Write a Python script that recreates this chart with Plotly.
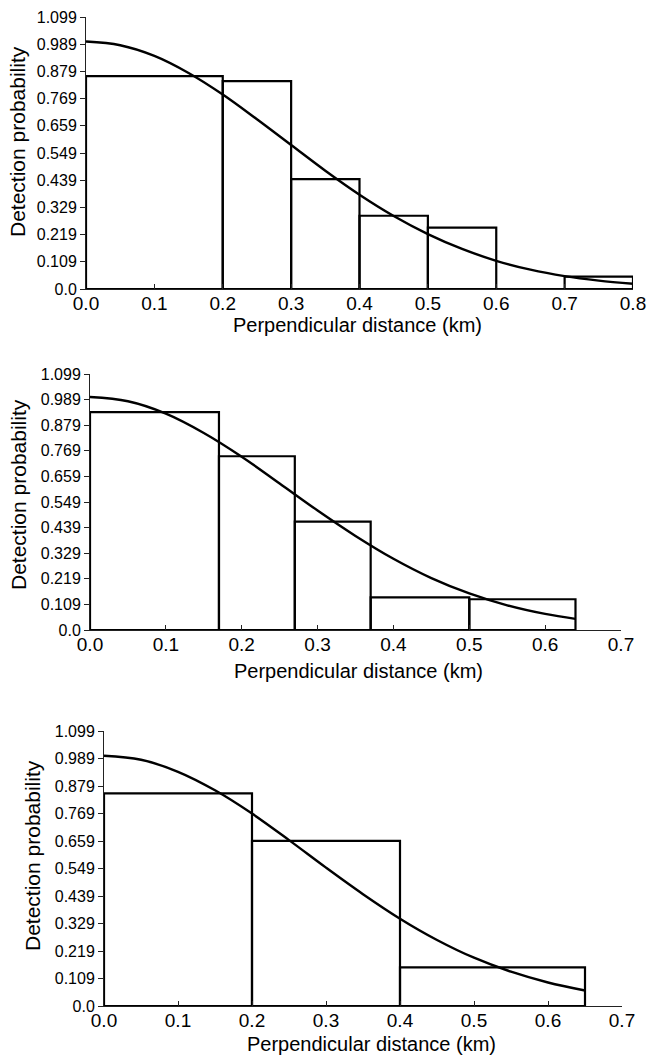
import plotly.graph_objects as go

# ---------------- data ----------------
p1_edges = [0.0, 0.2, 0.3, 0.4, 0.5, 0.6, 0.7, 0.8]
p1_heights = [0.86, 0.84, 0.444, 0.296, 0.248, 0.0, 0.05]
p1_curve_x = [0.0, 0.05, 0.1, 0.15, 0.2, 0.25, 0.3, 0.35, 0.4, 0.45, 0.5, 0.55, 0.6, 0.65, 0.7, 0.75, 0.8]
p1_curve_y = [1.0, 0.985, 0.942, 0.873, 0.786, 0.686, 0.582, 0.478, 0.381, 0.295, 0.222, 0.162, 0.114, 0.078, 0.052, 0.034, 0.021]

p2_edges = [0.0, 0.17, 0.27, 0.37, 0.5, 0.64]
p2_heights = [0.935, 0.746, 0.465, 0.140, 0.132]
p2_curve_x = [0.0, 0.05, 0.1, 0.15, 0.2, 0.25, 0.3, 0.35, 0.4, 0.45, 0.5, 0.55, 0.6, 0.64]
p2_curve_y = [1.0, 0.982, 0.929, 0.846, 0.744, 0.629, 0.513, 0.404, 0.306, 0.223, 0.157, 0.106, 0.069, 0.048]

p3_edges = [0.0, 0.2, 0.4, 0.65]
p3_heights = [0.85, 0.66, 0.154]
p3_curve_x = [0.0, 0.05, 0.1, 0.15, 0.2, 0.25, 0.3, 0.35, 0.4, 0.45, 0.5, 0.55, 0.6, 0.65]
p3_curve_y = [1.0, 0.984, 0.936, 0.862, 0.769, 0.663, 0.553, 0.447, 0.349, 0.264, 0.193, 0.137, 0.094, 0.062]

y_tick_vals = [0.0, 0.1099, 0.2198, 0.3297, 0.4396, 0.5495, 0.6594, 0.7693, 0.8792, 0.9891, 1.099]
y_tick_text = ["0.0", "0.109", "0.219", "0.329", "0.439", "0.549", "0.659", "0.769", "0.879", "0.989", "1.099"]
x_max = [0.8, 0.7, 0.7]

x_title = "Perpendicular distance (km)"
y_title = "Detection probability"

# ---------------- figure ----------------
W, H = 647, 1060
FONT = "Arial, 'Liberation Sans', sans-serif"

panels = [
    (p1_edges, p1_heights, p1_curve_x, p1_curve_y),
    (p2_edges, p2_heights, p2_curve_x, p2_curve_y),
    (p3_edges, p3_heights, p3_curve_x, p3_curve_y),
]
# plot areas in pixels: (left, right, top, bottom)
boxes = [(86, 633, 17, 289), (90, 621, 374, 630), (104, 622, 731, 1006)]
ytitle_pos = [(18, 142), (18, 495), (32, 856)]
xtitle_pos = [(357, 325), (358, 671), (371, 1044)]

fig = go.Figure()
layout = dict(
    template="none",
    width=W, height=H,
    margin=dict(l=0, r=0, t=0, b=0, autoexpand=False),
    paper_bgcolor="white", plot_bgcolor="white",
    showlegend=False,
    font=dict(family=FONT, color="black"),
    bargap=0,
    annotations=[],
)

for i, (edges, heights, cx, cy) in enumerate(panels):
    n = "" if i == 0 else str(i + 1)
    mids = [(edges[k] + edges[k + 1]) / 2 for k in range(len(heights))]
    widths = [edges[k + 1] - edges[k] for k in range(len(heights))]
    fig.add_trace(go.Bar(
        x=mids, y=heights, width=widths,
        marker=dict(color="rgba(0,0,0,0)", line=dict(color="black", width=2.2)),
        xaxis="x" + n, yaxis="y" + n, hoverinfo="skip",
    ))
    fig.add_trace(go.Scatter(
        x=cx, y=cy, mode="lines", line=dict(color="black", width=2.4, shape="spline"),
        xaxis="x" + n, yaxis="y" + n, hoverinfo="skip",
    ))
    l, r, t, b = boxes[i]
    layout["xaxis" + n] = dict(
        domain=[l / W, r / W], anchor="y" + n, automargin=False,
        range=[0, x_max[i]], dtick=0.1, tick0=0, tickformat=".1f",
        showgrid=False, zeroline=False, showline=True, linecolor="#222", linewidth=1,
        ticks="inside", ticklen=5, tickcolor="#222", ticklabelstandoff=-3,
        tickfont=dict(size=19, family=FONT, color="black"),
    )
    layout["yaxis" + n] = dict(
        domain=[1 - b / H, 1 - t / H], anchor="x" + n, automargin=False,
        range=[0, 1.099], tickvals=y_tick_vals, ticktext=y_tick_text,
        showgrid=False, zeroline=False, showline=True, linecolor="#222", linewidth=1,
        ticks="outside", ticklen=5, tickcolor="#222",
        tickfont=dict(size=16, family=FONT, color="black"),
    )
    yx, yy = ytitle_pos[i]
    layout["annotations"].append(dict(
        text=y_title, xref="paper", yref="paper", x=yx / W, y=1 - yy / H,
        textangle=-90, showarrow=False, xanchor="center", yanchor="middle",
        font=dict(size=21, family=FONT, color="black"),
    ))
    xx, xy = xtitle_pos[i]
    layout["annotations"].append(dict(
        text=x_title, xref="paper", yref="paper", x=xx / W, y=1 - xy / H,
        showarrow=False, xanchor="center", yanchor="middle",
        font=dict(size=20, family=FONT, color="black"),
    ))

fig.update_layout(**layout)
fig.write_html(
    "out.html",
    config={"displayModeBar": False, "staticPlot": True},
    post_script="document.body.style.margin='0';document.body.style.overflow='hidden';",
)
